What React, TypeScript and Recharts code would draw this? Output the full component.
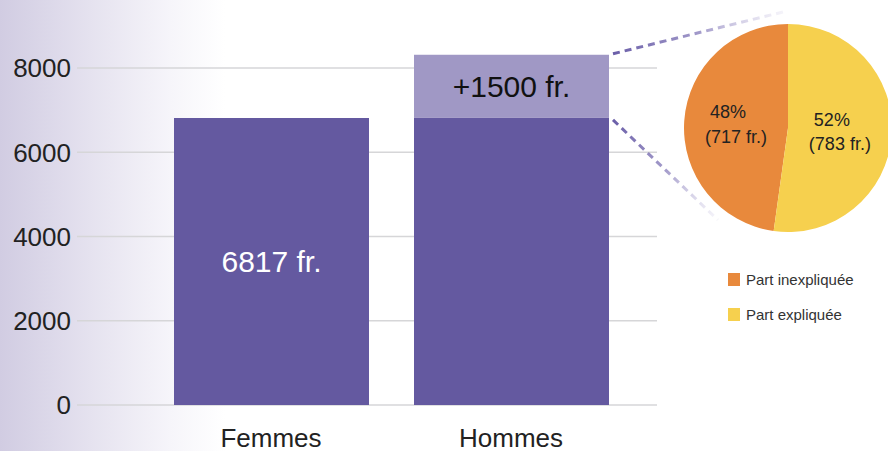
import React from 'react';
import { BarChart, Bar, XAxis, YAxis, CartesianGrid, LabelList, PieChart, Pie, Cell, Legend } from 'recharts';

const categories = ['Femmes', 'Hommes'];
const baseValues = [6817, 6817];
const extraValues = [0, 1500];
const baseLabels = ['6817 fr.', ''];
const extraLabels = ['', '+1500 fr.'];
const yTicks = [0, 2000, 4000, 6000, 8000];

const pieNames = ['Part inexpliquée', 'Part expliquée'];
const pieValues = [717, 783];
const piePercents = ['48%', '52%'];
const pieAmounts = ['(717 fr.)', '(783 fr.)'];
const pieColors = ['#E8893C', '#F6D04E'];

const FONT = '"Liberation Sans", Arial, sans-serif';
const BASE_COLOR = '#6459A0';
const EXTRA_COLOR = '#A098C5';
const PIE_CX = 788;
const PIE_CY = 128;
const PIE_R = 104;

const barData = categories.map((c, i) => ({
  name: c,
  base: baseValues[i],
  extra: extraValues[i],
  baseLabel: baseLabels[i],
  extraLabel: extraLabels[i],
}));

const pieData = pieNames.map((n, i) => ({ name: n, value: pieValues[i] }));

const RADIAN = Math.PI / 180;

const renderPieLabel = (props: any) => {
  const { cx, cy, midAngle, outerRadius, index } = props;
  const r = outerRadius * 0.5;
  const x = cx + r * Math.cos(-midAngle * RADIAN);
  const y = cy + r * Math.sin(-midAngle * RADIAN);
  return (
    <text fill="#222" fontSize={18} fontFamily={FONT}>
      <tspan x={x - 8} y={y - 6} textAnchor="middle">{piePercents[index]}</tspan>
      <tspan x={x} y={y + 18.5} textAnchor="middle">{pieAmounts[index]}</tspan>
    </text>
  );
};

const ExtraShape = (props: any) => {
  const { x, y, width, height, fill } = props;
  if (!height || height <= 0) return null;
  const sx = x + width + 4;
  const uy = y - 1;
  const ly = y + height + 2;
  const ux2 = PIE_CX - 5;
  const uy2 = PIE_CY - 116;
  const lx2 = PIE_CX - 70;
  const ly2 = PIE_CY + 92;
  return (
    <g>
      <defs>
        <linearGradient id="upperFade" gradientUnits="userSpaceOnUse" x1={sx} y1={uy} x2={ux2} y2={uy2}>
          <stop offset="0%" stopColor="#6A5EA8" stopOpacity={1} />
          <stop offset="50%" stopColor="#968DC3" stopOpacity={0.9} />
          <stop offset="100%" stopColor="#E4E1F1" stopOpacity={0.4} />
        </linearGradient>
        <linearGradient id="lowerFade" gradientUnits="userSpaceOnUse" x1={sx} y1={ly} x2={lx2} y2={ly2}>
          <stop offset="0%" stopColor="#6A5EA8" stopOpacity={1} />
          <stop offset="50%" stopColor="#9A91C5" stopOpacity={0.9} />
          <stop offset="100%" stopColor="#E8E6F3" stopOpacity={0.4} />
        </linearGradient>
      </defs>
      <rect x={x} y={y} width={width} height={height} fill={fill} />
      <line x1={sx} y1={uy} x2={ux2} y2={uy2} stroke="url(#upperFade)" strokeWidth={3} strokeDasharray="7 5" />
      <line x1={sx} y1={ly} x2={lx2} y2={ly2} stroke="url(#lowerFade)" strokeWidth={3} strokeDasharray="7 5" />
    </g>
  );
};

const renderLegend = () => (
  <div style={{ fontFamily: FONT, fontSize: 15, color: '#333' }}>
    {pieNames.map((n, i) => (
      <div key={n} style={{ display: 'flex', alignItems: 'center', height: 35 }}>
        <span style={{ display: 'inline-block', width: 12, height: 13, background: pieColors[i], marginRight: 6 }} />
        <span>{n}</span>
      </div>
    ))}
  </div>
);

export default function App() {
  return (
    <div
      style={{
        position: 'absolute',
        left: 0,
        top: 0,
        width: 888,
        height: 451,
        overflow: 'hidden',
        background: 'linear-gradient(to right, #d1cce2 0px, #e5e2ef 90px, #f6f5fa 170px, #ffffff 225px)',
      }}
    >
      <div style={{ position: 'absolute', left: 0, top: 0 }}>
        <BarChart width={888} height={451} data={barData} margin={{ top: 26, right: 231, bottom: 0, left: 0 }} barSize={195}>
          <CartesianGrid vertical={false} stroke="#d6d6d8" strokeWidth={1.5} syncWithTicks />
          <XAxis
            dataKey="name"
            axisLine={false}
            tickLine={false}
            height={46}
            tickMargin={18}
            padding={{ left: 74, right: 26 }}
            tick={{ fontSize: 26, fill: '#222', fontFamily: FONT }}
          />
          <YAxis
            width={77}
            domain={[0, 9000]}
            ticks={yTicks}
            axisLine={false}
            tickLine={false}
            tickMargin={0}
            tick={{ fontSize: 26, fill: '#222', fontFamily: FONT }}
          />
          <Bar dataKey="base" stackId="a" fill={BASE_COLOR} isAnimationActive={false}>
            <LabelList dataKey="baseLabel" position="center" fill="#fff" fontSize={30} fontFamily={FONT} />
          </Bar>
          <Bar dataKey="extra" stackId="a" fill={EXTRA_COLOR} isAnimationActive={false} shape={ExtraShape}>
            <LabelList dataKey="extraLabel" position="center" fill="#111" fontSize={30} fontFamily={FONT} />
          </Bar>
        </BarChart>
      </div>
      <div style={{ position: 'absolute', left: 0, top: 0 }}>
        <PieChart width={888} height={451} margin={{ top: 0, right: 0, bottom: 0, left: 0 }}>
          <Pie
            data={pieData}
            dataKey="value"
            nameKey="name"
            cx={PIE_CX}
            cy={PIE_CY}
            outerRadius={PIE_R}
            startAngle={90}
            endAngle={450}
            stroke="none"
            label={renderPieLabel}
            labelLine={false}
            isAnimationActive={false}
          >
            {pieData.map((d, i) => (
              <Cell key={d.name} fill={pieColors[i]} />
            ))}
          </Pie>
          <Legend
            layout="vertical"
            align="right"
            verticalAlign="top"
            content={renderLegend}
            wrapperStyle={{ position: 'absolute', left: 728, top: 262, width: 160 }}
          />
        </PieChart>
      </div>
    </div>
  );
}
